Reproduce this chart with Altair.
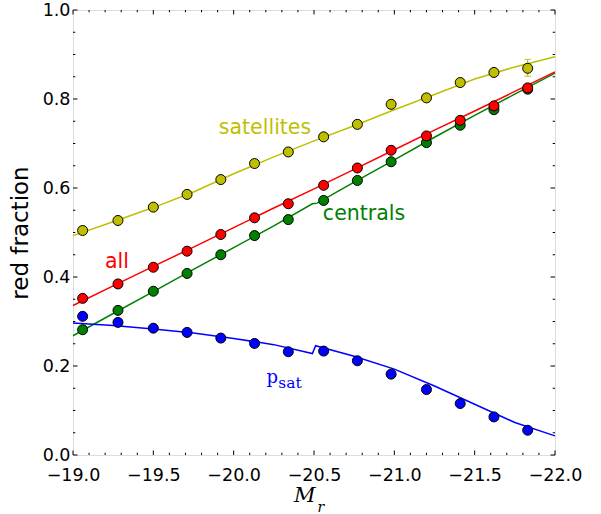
import altair as alt
import pandas as pd

W, H = 482, 445

# ---- data ----
mags = [-19.06, -19.28, -19.50, -19.71, -19.92, -20.13, -20.34, -20.56,
        -20.77, -20.98, -21.20, -21.41, -21.62, -21.83]
sat_pts = [0.5045, 0.527, 0.557, 0.5856, 0.619, 0.655, 0.681, 0.715,
           0.743, 0.788, 0.8025, 0.837, 0.8597, 0.869]
all_pts = [0.352, 0.3844, 0.4219, 0.458, 0.4955, 0.533, 0.5646, 0.606,
           0.645, 0.6847, 0.717, 0.752, 0.7845, 0.825]
cen_pts = [0.2815, 0.325, 0.368, 0.408, 0.450, 0.493, 0.529, 0.572,
           0.617, 0.659, 0.702, 0.741, 0.776, 0.822]
psat_pts = [0.3116, 0.298, 0.285, 0.2755, 0.2627, 0.2508, 0.232, 0.2335,
            0.2117, 0.1817, 0.147, 0.1156, 0.0856, 0.0556]

err_mag = [-21.83]
err_lo = [0.851]
err_hi = [0.889]

line_mag = [-19.0, -19.25, -19.5, -19.75, -20.0, -20.25, -20.5, -20.75,
            -21.0, -21.25, -21.5, -21.75, -22.0]
sat_line = [0.493, 0.524, 0.556, 0.591, 0.632, 0.670, 0.706, 0.740,
            0.776, 0.810, 0.845, 0.872, 0.895]
all_line = [0.336, 0.380, 0.424, 0.467, 0.511, 0.555, 0.598, 0.642,
            0.686, 0.730, 0.773, 0.817, 0.861]
cen_mag = [-19.0, -19.25, -19.5, -19.75, -20.0, -20.25, -20.49, -20.52,
           -20.75, -21.0, -21.25, -21.5, -21.75, -22.0]
cen_line = [0.268, 0.318, 0.367, 0.417, 0.466, 0.515, 0.5646, 0.566,
            0.613, 0.663, 0.714, 0.763, 0.811, 0.858]
psat_mag = [-19.0, -19.25, -19.5, -19.75, -20.0, -20.25, -20.49, -20.51,
            -20.75, -21.0, -21.25, -21.5, -21.75, -22.0]
psat_line = [0.2965, 0.291, 0.283, 0.274, 0.262, 0.248, 0.228, 0.2455,
             0.222, 0.193, 0.155, 0.114, 0.073, 0.043]

series_names = ["centrals", "all", "satellites", "psat"]
series_colors = ["#008000", "#ff0000", "#bfbf00", "#0000ff"]

x_major = [-19.0, -19.5, -20.0, -20.5, -21.0, -21.5, -22.0]
x_minor = [-19.1, -19.2, -19.3, -19.4, -19.6, -19.7, -19.8, -19.9,
           -20.1, -20.2, -20.3, -20.4, -20.6, -20.7, -20.8, -20.9,
           -21.1, -21.2, -21.3, -21.4, -21.6, -21.7, -21.8, -21.9]
y_major = [0.0, 0.2, 0.4, 0.6, 0.8, 1.0]
y_minor = [0.05, 0.1, 0.15, 0.25, 0.3, 0.35, 0.45, 0.5, 0.55, 0.65,
           0.7, 0.75, 0.85, 0.9, 0.95]

# ---- tables ----
pts_rows = []
for name, vals in zip(series_names, [cen_pts, all_pts, sat_pts, psat_pts]):
    for m, v in zip(mags, vals):
        pts_rows.append({"mag": m, "frac": v, "series": name})
pts_df = pd.DataFrame(pts_rows)

line_rows = []
for name, mm, vals in zip(series_names,
                          [cen_mag, line_mag, line_mag, psat_mag],
                          [cen_line, all_line, sat_line, psat_line]):
    for i, (m, v) in enumerate(zip(mm, vals)):
        line_rows.append({"mag": m, "frac": v, "series": name, "ord": i})
line_df = pd.DataFrame(line_rows)

err_df = pd.DataFrame({"mag": err_mag, "lo": err_lo, "hi": err_hi})
cap_df = pd.DataFrame({"mag": err_mag + err_mag, "frac": err_lo + err_hi})

xs = alt.Scale(domain=[-22, -19], reverse=True, nice=False, zero=False, padding=0)
ys = alt.Scale(domain=[0, 1], nice=False, zero=False, padding=0)
cs = alt.Scale(domain=series_names, range=series_colors)

lab_font = "DejaVu Sans"

x_main = alt.X("mag:Q", scale=xs, axis=alt.Axis(
    orient="bottom", values=x_major, format=".1f", labelFontSize=17.5,
    labelFont=lab_font, labelColor="black", ticks=False, tickSize=0,
    domain=False, grid=False, title=None, labelPadding=11,
    labelOverlap=False, labelFlush=False))
y_main = alt.Y("frac:Q", scale=ys, axis=alt.Axis(
    orient="left", values=y_major, format=".1f", labelFontSize=17.5,
    labelFont=lab_font, labelColor="black", ticks=False, tickSize=0,
    domain=False, grid=False, title="red fraction", titleFont=lab_font,
    titleFontSize=23, titleFontWeight="normal", titleColor="black",
    titlePadding=10, labelPadding=3, labelOverlap=False, labelFlush=False))

lines = alt.Chart(line_df).mark_line(strokeWidth=1.5).encode(
    x=x_main, y=y_main,
    color=alt.Color("series:N", scale=cs, legend=None),
    detail="series:N",
    order="ord:Q",
)

err_rule = alt.Chart(err_df).mark_rule(color="#bfbf00", strokeWidth=1.2).encode(
    x=alt.X("mag:Q", scale=xs, axis=None),
    y=alt.Y("lo:Q", scale=ys, axis=None),
    y2="hi:Q",
)
err_caps = alt.Chart(cap_df).mark_tick(
    color="#bfbf00", orient="horizontal", size=7, thickness=1.2).encode(
    x=alt.X("mag:Q", scale=xs, axis=None),
    y=alt.Y("frac:Q", scale=ys, axis=None),
)

points = alt.Chart(pts_df).mark_circle(
    size=100, stroke="black", strokeWidth=1, opacity=1).encode(
    x=alt.X("mag:Q", scale=xs, axis=None),
    y=alt.Y("frac:Q", scale=ys, axis=None),
    fill=alt.Fill("series:N", scale=cs, legend=None),
)


# inward tick marks on all four sides (positions come from the scales)
def xticks(values, size, top):
    return alt.Chart(pd.DataFrame({"v": values})).mark_rule(
        color="black", strokeWidth=1).encode(
        x=alt.X("v:Q", scale=xs, axis=None),
        y=alt.value(0 if top else H),
        y2=alt.value(size if top else H - size),
    )


def yticks(values, size, left):
    return alt.Chart(pd.DataFrame({"v": values})).mark_rule(
        color="black", strokeWidth=1).encode(
        y=alt.Y("v:Q", scale=ys, axis=None),
        x=alt.value(0 if left else W),
        x2=alt.value(size if left else W - size),
    )


MAJ, MIN = 4.5, 2.3
tick_layers = [
    xticks(x_major, MAJ, True), xticks(x_minor, MIN, True),
    xticks(x_major, MAJ, False), xticks(x_minor, MIN, False),
    yticks(y_major, MAJ, True), yticks(y_minor, MIN, True),
    yticks(y_major, MAJ, False), yticks(y_minor, MIN, False),
]

# ---- text labels ----
lab_text = ["satellites", "all", "centrals"]
lab_col = ["#bfbf00", "#ff0000", "#008000"]
lab_px = [192, 44, 291]
lab_py = [124, 257.5, 210]

texts = []
for t, c, px, py in zip(lab_text, lab_col, lab_px, lab_py):
    texts.append(alt.Chart(pd.DataFrame({"t": [t]})).mark_text(
        font=lab_font, fontSize=20.5, color=c, align="center",
        baseline="alphabetic").encode(
        text="t:N", x=alt.value(px), y=alt.value(py)))

texts.append(alt.Chart(pd.DataFrame({"t": ["p"]})).mark_text(
    font="DejaVu Serif", fontSize=18, color="#0000ff", align="left",
    baseline="alphabetic").encode(text="t:N", x=alt.value(193.5), y=alt.value(372.7)))
texts.append(alt.Chart(pd.DataFrame({"t": ["sat"]})).mark_text(
    font="DejaVu Serif", fontSize=15.5, color="#0000ff", align="left",
    baseline="alphabetic").encode(text="t:N", x=alt.value(205.3), y=alt.value(378.3)))
texts.append(alt.Chart(pd.DataFrame({"t": ["M"]})).mark_text(
    font="DejaVu Serif", fontStyle="italic", fontSize=21, color="black",
    align="left", baseline="alphabetic").encode(
    text="t:N", x=alt.value(221), y=alt.value(491.7)))
texts.append(alt.Chart(pd.DataFrame({"t": ["r"]})).mark_text(
    font="DejaVu Serif", fontStyle="italic", fontSize=14, color="black",
    align="left", baseline="alphabetic").encode(
    text="t:N", x=alt.value(244.5), y=alt.value(501.5)))

chart = alt.layer(
    lines, err_rule, err_caps, *tick_layers, points, *texts
).resolve_axis(x="independent", y="independent").properties(
    width=W, height=H,
    padding={"left": 73, "top": 10, "right": 46, "bottom": 59},
    autosize=alt.AutoSizeParams(type="none"),
).configure_view(stroke="black", strokeWidth=1.3).configure(background="white")

chart.save("out.html", embed_options={"renderer": "svg", "actions": False})
